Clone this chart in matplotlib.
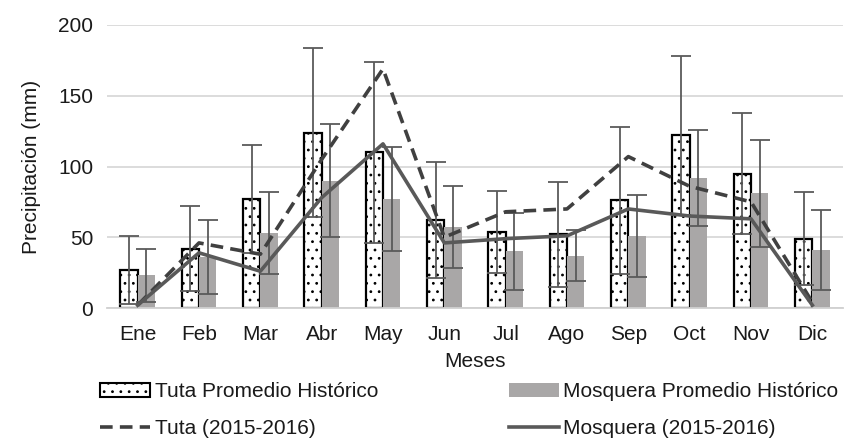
import numpy as np
import matplotlib.pyplot as plt
from matplotlib.patches import Patch
from matplotlib.lines import Line2D

plt.rcParams['font.family'] = ['Liberation Sans', 'DejaVu Sans']
plt.rcParams['hatch.linewidth'] = 0.8

months = ['Ene', 'Feb', 'Mar', 'Abr', 'May', 'Jun', 'Jul', 'Ago', 'Sep', 'Oct', 'Nov', 'Dic']
tuta_hist = [27, 42, 77, 124, 110, 62, 54, 52, 76, 122, 95, 49]
tuta_sd = [24, 30, 38, 60, 64, 41, 29, 37, 52, 56, 43, 33]
mosq_hist = [23, 36, 53, 90, 77, 57, 40, 37, 51, 92, 81, 41]
mosq_sd = [19, 26, 29, 40, 37, 29, 27, 18, 29, 34, 38, 28]
tuta_1516 = [2, 46, 38, 105, 169, 50, 68, 70, 107, 86, 75, 4]
mosq_1516 = [2, 39, 26, 78, 116, 46, 49, 51, 70, 65, 63, 2]

txt = '#1a1a1a'
err_c = '#5a5a5a'
gray = '#a9a7a7'

fig = plt.figure(figsize=(8.55, 4.45), dpi=100)
ax = fig.add_axes([107 / 855, 1 - 308 / 445, 736 / 855, 283 / 445])

x = np.arange(len(months))
w = 0.28

ax.bar(x - w / 2, tuta_hist, w, color='white', edgecolor='black', linewidth=1.6,
       hatch='..', zorder=2)
ax.bar(x + w / 2, mosq_hist, w, color=gray, linewidth=0, zorder=2)
ax.errorbar(x - w / 2, tuta_hist, yerr=tuta_sd, fmt='none', ecolor=err_c,
            elinewidth=1.3, capsize=7, capthick=1.3, zorder=3)
ax.errorbar(x + w / 2, mosq_hist, yerr=mosq_sd, fmt='none', ecolor=err_c,
            elinewidth=1.3, capsize=7, capthick=1.3, zorder=3)

ax.plot(x, tuta_1516, color='#404040', lw=2.6, dashes=(3.5, 2), zorder=4)
ax.plot(x, mosq_1516, color='#595959', lw=2.6, zorder=4)

ax.set_xlim(-0.5, 11.5)
ax.set_ylim(0, 200)
ax.set_yticks([0, 50, 100, 150, 200])
ax.set_xticks(x)
ax.set_xticklabels(months)
ax.tick_params(length=0, labelsize=15, colors=txt)
ax.tick_params(axis='x', pad=12)
ax.tick_params(axis='y', pad=10)
ax.grid(axis='y', color='#d9d9d9', lw=1.3, zorder=0)
for s in ['top', 'right', 'left']:
    ax.spines[s].set_visible(False)
ax.spines['bottom'].set_color('#d0d0d0')
ax.spines['bottom'].set_linewidth(1.3)

ax.set_xlabel('Meses', fontsize=15, color=txt, labelpad=6)
ax.set_ylabel('Precipitación (mm)', fontsize=15, color=txt, labelpad=12)

handles = [
    Patch(facecolor='white', edgecolor='black', hatch='..', linewidth=1.5),
    Line2D([], [], color='#404040', lw=2.6, dashes=(3.5, 2)),
    Patch(facecolor=gray, linewidth=0),
    Line2D([], [], color='#595959', lw=2.6),
]
labels = ['Tuta Promedio Histórico', 'Tuta (2015-2016)',
          'Mosquera Promedio Histórico', 'Mosquera (2015-2016)']
fig.legend(handles, labels, ncol=2, loc='upper left', bbox_to_anchor=(90 / 855, 1 - 372 / 445),
           frameon=False, fontsize=15, handlelength=2.4, handletextpad=0.2,
           columnspacing=6.3, labelspacing=0.85, labelcolor=txt, borderpad=0)

fig.savefig('out.png', dpi=100)
